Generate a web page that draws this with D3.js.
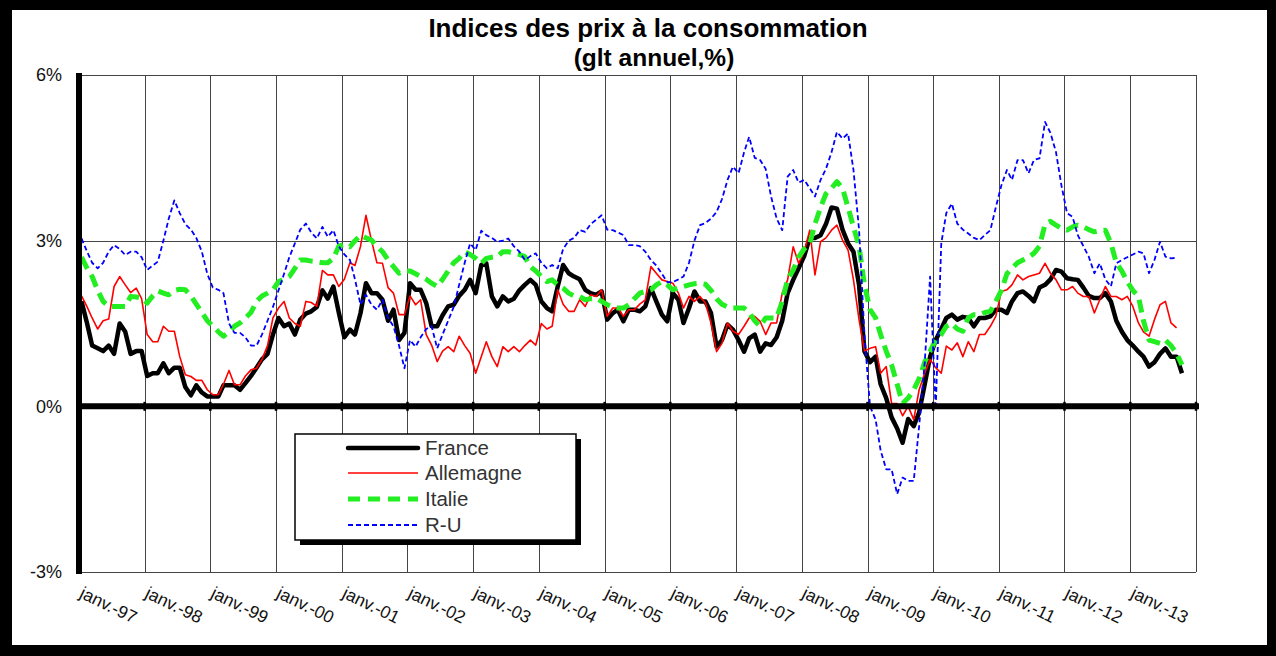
<html>
  <head>
    <meta charset="utf-8" />
    <title>Indices des prix à la consommation</title>
    <script src="https://d3js.org/d3.v7.min.js"></script>
    <style type="text/css">
      body { margin: 0; background: #000; }
      svg text { font-family: "Liberation Sans", Arial, sans-serif; }
      .grid line { stroke: #444; stroke-width: 1; shape-rendering: crispEdges; }
      .grid path { display: none; }
    </style>
  </head>
  <body>
    <div id="chart"></div>
    <script type="text/javascript">
      // glissement annuel mensuel, janv. 1997 -> oct. 2013
      var france = [1.9,1.5,1.1,1.05,1.0,1.1,0.95,1.5,1.35,0.95,1.0,1.0,
        0.55,0.6,0.6,0.78,0.6,0.7,0.7,0.35,0.2,0.38,0.25,0.18,
        0.18,0.18,0.38,0.38,0.38,0.3,0.42,0.55,0.7,0.85,0.95,1.3,
        1.6,1.45,1.5,1.3,1.57,1.68,1.72,1.8,2.1,1.95,2.17,1.7,
        1.25,1.39,1.3,1.69,2.23,2.05,2.05,1.93,1.55,1.75,1.2,1.33,
        2.23,2.11,2.11,1.87,1.45,1.45,1.65,1.81,1.84,2.0,2.11,2.29,
        2.05,2.56,2.59,1.99,1.81,1.99,1.9,1.95,2.1,2.2,2.29,2.2,
        1.9,1.78,1.72,2.17,2.56,2.41,2.35,2.3,2.11,2.05,2.02,2.08,
        1.57,1.69,1.75,1.54,1.75,1.75,1.72,1.81,2.14,1.9,1.66,1.54,
        2.05,1.93,1.51,1.78,2.08,1.9,1.9,1.69,1.08,1.2,1.48,1.39,
        1.2,0.99,1.23,1.3,0.99,1.14,1.11,1.25,1.55,2.05,2.29,2.5,
        2.72,3.05,3.05,3.1,3.3,3.6,3.58,3.2,2.95,2.8,2.2,1.0,
        0.8,0.9,0.4,0.15,-0.2,-0.4,-0.66,-0.23,-0.36,-0.11,0.4,0.9,
        1.2,1.4,1.6,1.66,1.57,1.62,1.6,1.45,1.6,1.6,1.63,1.75,
        1.75,1.69,1.9,2.05,2.08,2.0,1.9,2.15,2.2,2.3,2.47,2.44,
        2.32,2.3,2.29,2.15,2.0,1.96,1.96,2.05,1.9,1.55,1.35,1.2,
        1.1,0.99,0.9,0.72,0.8,0.95,1.05,0.9,0.9,0.6];
      var allemagne = [2.0,1.8,1.6,1.4,1.55,1.58,2.17,2.35,2.2,2.06,2.14,1.95,
        1.3,1.17,1.17,1.45,1.36,1.36,0.9,0.57,0.54,0.47,0.47,0.3,
        0.21,0.21,0.4,0.65,0.39,0.39,0.55,0.66,0.69,0.85,1.1,1.6,
        1.78,1.9,1.6,1.5,1.45,1.9,1.88,1.81,2.46,2.38,2.38,2.17,
        2.3,2.6,2.55,2.9,3.46,3.0,2.6,2.59,2.15,2.05,1.66,1.66,
        2.0,1.84,1.93,1.3,1.11,0.81,1.0,1.08,0.99,1.27,1.1,0.96,
        0.6,0.9,1.17,0.9,0.72,1.08,0.99,1.08,0.99,1.1,1.2,1.11,
        1.5,1.4,1.45,2.11,1.85,1.72,1.72,1.93,1.81,2.02,1.99,2.11,
        1.63,1.78,1.78,1.63,1.75,1.75,1.85,1.93,2.53,2.41,2.29,2.26,
        2.23,2.05,1.78,1.99,1.9,1.99,1.87,1.51,0.99,1.14,1.51,1.36,
        1.3,1.45,1.6,1.63,1.54,1.3,1.51,1.51,2.05,2.29,2.89,2.59,
        2.8,3.19,2.38,2.98,3.05,3.19,3.28,3.01,2.83,2.29,1.57,1.0,
        1.05,1.08,0.6,0.72,0.05,0.05,-0.17,0.0,-0.24,0.3,0.6,0.85,
        0.7,0.6,1.09,1.02,1.15,0.9,1.17,0.99,1.3,1.3,1.45,1.63,
        2.08,2.11,2.2,2.38,2.29,2.35,2.38,2.41,2.59,2.41,2.29,2.11,
        2.11,2.17,2.05,1.99,1.99,1.69,1.93,2.17,1.99,1.99,1.93,1.99,
        1.81,1.51,1.35,1.27,1.57,1.84,1.9,1.51,1.42];
      var italie = [2.7,2.5,2.35,2.1,1.9,1.81,1.81,1.81,1.81,1.99,1.98,1.96,
        1.87,2.0,2.09,2.05,2.02,2.1,2.12,2.11,2.0,1.85,1.7,1.55,
        1.45,1.35,1.27,1.35,1.45,1.51,1.6,1.7,1.9,2.0,2.05,2.11,
        2.26,2.3,2.35,2.5,2.65,2.65,2.63,2.62,2.6,2.6,2.68,2.9,
        2.93,2.89,3.0,3.1,3.05,3.01,2.9,2.8,2.65,2.53,2.41,2.45,
        2.45,2.4,2.35,2.3,2.23,2.17,2.3,2.45,2.6,2.68,2.8,2.75,
        2.68,2.59,2.68,2.7,2.71,2.8,2.8,2.77,2.75,2.71,2.53,2.45,
        2.35,2.26,2.29,2.2,2.14,2.05,2.0,1.99,1.93,1.95,1.96,1.9,
        1.84,1.8,1.78,1.78,1.84,1.95,2.05,2.08,2.11,2.2,2.26,2.2,
        2.11,2.15,2.17,2.2,2.22,2.23,2.21,2.1,1.95,1.85,1.8,1.78,
        1.78,1.78,1.7,1.55,1.45,1.6,1.6,1.6,1.9,2.3,2.47,2.7,
        2.85,2.95,3.3,3.6,3.85,3.95,4.07,3.95,3.6,3.25,2.9,2.2,
        1.75,1.6,1.3,1.0,0.75,0.4,0.05,0.15,0.3,0.5,0.8,1.0,
        1.2,1.3,1.45,1.5,1.4,1.36,1.6,1.66,1.66,1.7,1.72,1.9,
        2.1,2.4,2.5,2.6,2.65,2.7,2.77,2.9,3.3,3.35,3.28,3.22,
        3.19,3.25,3.28,3.25,3.2,3.16,3.18,3.19,2.95,2.6,2.45,2.26,
        2.1,1.99,1.55,1.2,1.17,1.14,1.2,1.1,0.96,0.75];
      var ru = [3.04,2.8,2.6,2.5,2.6,2.8,2.92,2.85,2.74,2.8,2.8,2.7,
        2.47,2.55,2.62,3.0,3.4,3.73,3.5,3.3,3.2,3.05,2.8,2.4,
        2.15,2.11,2.05,1.5,1.33,1.33,1.25,1.1,1.1,1.3,1.55,1.8,
        2.1,2.4,2.7,2.95,3.2,3.31,3.15,3.04,3.25,3.07,3.19,2.9,
        2.75,2.65,2.3,1.84,2.02,1.84,1.75,1.93,1.6,1.45,1.1,0.69,
        1.2,1.08,1.25,1.4,1.45,1.05,1.3,1.55,1.8,2.2,2.6,2.95,
        2.83,3.18,3.1,3.05,2.98,3.0,3.04,2.9,2.8,2.65,2.72,2.77,
        2.6,2.5,2.56,2.5,2.85,3.0,3.05,3.19,3.16,3.3,3.38,3.46,
        3.2,3.19,3.15,3.1,2.92,2.92,2.9,2.8,2.65,2.55,2.4,2.25,
        2.25,2.3,2.35,2.6,3.0,3.28,3.32,3.4,3.52,3.75,4.1,4.34,
        4.22,4.6,4.88,4.5,4.46,4.3,3.8,3.4,3.19,4.16,4.28,4.05,
        4.1,3.95,3.8,4.1,4.3,4.6,4.97,4.85,4.94,4.28,3.2,1.3,
        0.0,-0.24,-0.8,-1.14,-1.14,-1.59,-1.29,-1.35,-1.35,-0.36,0.79,2.35,
        -0.05,2.95,3.5,3.67,3.31,3.2,3.13,3.05,3.01,3.1,3.19,3.6,
        4.0,4.28,4.1,4.46,4.46,4.22,4.46,4.49,5.15,4.95,4.6,4.0,
        3.5,3.43,3.1,2.9,2.71,2.41,2.59,2.3,2.17,2.59,2.65,2.7,
        2.75,2.8,2.77,2.41,2.65,2.98,2.71,2.68,2.69];

      var seriesNames = ["France", "Allemagne", "Italie", "R-U"];
      var yTicks = [-3, 0, 3, 6];
      var xLabels = ["janv.-97","janv.-98","janv.-99","janv.-00","janv.-01","janv.-02",
        "janv.-03","janv.-04","janv.-05","janv.-06","janv.-07","janv.-08","janv.-09",
        "janv.-10","janv.-11","janv.-12","janv.-13"];

      var styles = [
        {color: "#000000", width: 4.5, dash: null},
        {color: "#ff0000", width: 1.6, dash: null},
        {color: "#22ee22", width: 5, dash: "13,7"},
        {color: "#0000ff", width: 1.8, dash: "5,3"}
      ];
      var values = [france, allemagne, italie, ru];

      var width = 1276, height = 656;
      var plotL = 79, plotR = 1196, plotT = 75, plotB = 572;

      var svg = d3.select("#chart").append("svg")
          .attr("width", width)
          .attr("height", height);

      svg.append("rect").attr("width", width).attr("height", height).attr("fill", "#000");
      svg.append("rect").attr("x", 12).attr("y", 10)
          .attr("width", 1255).attr("height", 635).attr("fill", "#fff");

      var x = d3.scaleTime()
          .domain([new Date(1997, 0, 1), new Date(2014, 0, 1)])
          .range([plotL, plotR]);
      var y = d3.scaleLinear().domain([-3, 6]).range([plotB, plotT]);

      var years = d3.timeYear.range(new Date(1997, 0, 1), new Date(2014, 0, 2));

      // vertical grid + rotated labels
      var xg = svg.append("g").attr("class", "grid")
          .attr("transform", "translate(0," + plotB + ")")
          .call(d3.axisBottom(x).tickValues(years).tickSize(-(plotB - plotT))
            .tickFormat(function(d, i) { return xLabels[i] || ""; }));
      xg.selectAll("text")
          .attr("fill", "#111")
          .style("font-size", "17.5px")
          .attr("text-anchor", "start")
          .attr("x", 10).attr("y", 23).attr("dy", 0)
          .attr("transform", "rotate(26)");

      // horizontal grid + labels
      var yg = svg.append("g").attr("class", "grid")
          .attr("transform", "translate(" + plotL + ",0)")
          .call(d3.axisLeft(y).tickValues(yTicks).tickSize(-(plotR - plotL)).tickPadding(17)
            .tickFormat(function(d) { return d + "%"; }));
      yg.selectAll("text").attr("fill", "#111").style("font-size", "18px");

      // series
      var line = d3.line()
          .x(function(d, i) { return x(new Date(1997, i, 15)); })
          .y(function(d) { return y(d); });

      values.forEach(function(vals, k) {
        var s = styles[k];
        svg.append("path")
            .datum(vals)
            .attr("d", line)
            .attr("fill", "none")
            .attr("stroke", s.color)
            .attr("stroke-width", s.width)
            .attr("stroke-linejoin", "round")
            .attr("stroke-dasharray", s.dash);
      });

      // thick axes
      svg.append("line").attr("x1", plotL).attr("x2", plotL)
          .attr("y1", plotT - 2).attr("y2", plotB + 2)
          .attr("stroke", "#000").attr("stroke-width", 6);
      var zero = svg.append("g").attr("transform", "translate(0," + y(0) + ")");
      zero.append("line").attr("x1", plotL).attr("x2", plotR + 3)
          .attr("stroke", "#000").attr("stroke-width", 6);
      zero.selectAll(".tk").data(years).enter().append("line")
          .attr("x1", function(d) { return x(d); }).attr("x2", function(d) { return x(d); })
          .attr("y1", -4.5).attr("y2", 4.5)
          .attr("stroke", "#000").attr("stroke-width", 2.5);

      // title
      svg.append("text").attr("x", 648).attr("y", 37).attr("text-anchor", "middle")
          .style("font-size", "26px").style("font-weight", "bold")
          .text("Indices des prix à la consommation");
      svg.append("text").attr("x", 654).attr("y", 65.5).attr("text-anchor", "middle")
          .style("font-size", "24.5px").style("font-weight", "bold")
          .text("(glt annuel,%)");

      // legend
      var lg = svg.append("g");
      lg.append("rect").attr("x", 300).attr("y", 439).attr("width", 281).attr("height", 106)
          .attr("fill", "#000");
      lg.append("rect").attr("x", 295).attr("y", 434).attr("width", 281).attr("height", 106)
          .attr("fill", "#fff").attr("stroke", "#000").attr("stroke-width", 1.5);
      var rows = [448, 473, 499, 525];
      seriesNames.forEach(function(name, k) {
        var s = styles[k];
        lg.append("line").attr("x1", 348).attr("x2", 418)
            .attr("y1", rows[k]).attr("y2", rows[k])
            .attr("stroke", s.color)
            .attr("stroke-width", k == 2 ? 5 : s.width)
            .attr("stroke-dasharray", k == 2 ? "12,8" : s.dash)
            .attr("stroke-linecap", k == 0 ? "round" : "butt");
        lg.append("text").attr("x", 425).attr("y", rows[k] + 7)
            .attr("fill", "#333").style("font-size", "20.5px")
            .text(name);
      });
    </script>
  </body>
</html>
